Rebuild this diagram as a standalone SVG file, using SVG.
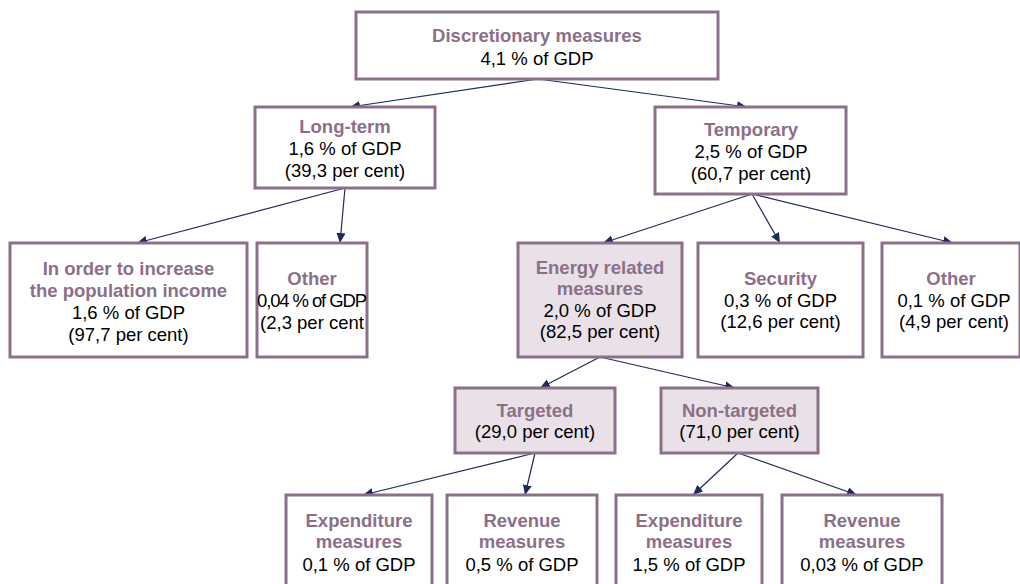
<svg xmlns="http://www.w3.org/2000/svg" width="1020" height="584" viewBox="0 0 1020 584">
<defs>
<marker id="arr" markerUnits="userSpaceOnUse" markerWidth="12" markerHeight="10" refX="10" refY="4.5" orient="auto">
<path d="M0,0 L10,4.5 L0,9 Z" fill="#1F2A5C"/>
</marker>
<style>
.box{fill:#FFFFFF;stroke:#8C7089;stroke-width:3}
.hl{fill:#E9E1E7;stroke:#8C7089;stroke-width:3}
text{font-family:"Liberation Sans",Arial,sans-serif;font-size:18.5px;text-anchor:middle;fill:#000000}
.t{font-weight:bold;fill:#8C7089}
.c{stroke:#1F2A5C;stroke-width:1.2;fill:none;marker-end:url(#arr)}
</style>
</defs>
<rect width="1020" height="584" fill="#FFFFFF"/>
<g id="connectors">
<line class="c" x1="538" y1="79" x2="350" y2="107"/>
<line class="c" x1="538" y1="79" x2="747" y2="107"/>
<line class="c" x1="345" y1="188" x2="137" y2="243"/>
<line class="c" x1="345" y1="188" x2="340" y2="243"/>
<line class="c" x1="752" y1="194" x2="603" y2="243"/>
<line class="c" x1="752" y1="194" x2="780" y2="243"/>
<line class="c" x1="752" y1="194" x2="953" y2="243"/>
<line class="c" x1="600" y1="357" x2="540" y2="388"/>
<line class="c" x1="600" y1="357" x2="735" y2="388"/>
<line class="c" x1="535" y1="453" x2="363" y2="495"/>
<line class="c" x1="535" y1="453" x2="525" y2="495"/>
<line class="c" x1="738" y1="453" x2="693" y2="495"/>
<line class="c" x1="738" y1="453" x2="857" y2="495"/>
</g>
<g id="discretionary">
<rect class="box" x="356" y="12" width="362" height="67"/>
<text class="t" x="537" y="42">Discretionary measures</text>
<text x="537" y="65">4,1 % of GDP</text>
</g>
<g id="longterm">
<rect class="box" x="255" y="107" width="180" height="81"/>
<text class="t" x="345" y="133">Long-term</text>
<text x="345" y="155">1,6 % of GDP</text>
<text x="345" y="177">(39,3 per cent)</text>
</g>
<g id="temporary">
<rect class="box" x="655" y="107" width="191" height="87"/>
<text class="t" x="751" y="136">Temporary</text>
<text x="751" y="158">2,5 % of GDP</text>
<text x="751" y="180">(60,7 per cent)</text>
</g>
<g id="income">
<rect class="box" x="10" y="243" width="237" height="114"/>
<text class="t" x="128.5" y="275">In order to increase</text>
<text class="t" x="128.5" y="297">the population income</text>
<text x="128.5" y="319">1,6 % of GDP</text>
<text x="128.5" y="341">(97,7 per cent)</text>
</g>
<g id="other-longterm">
<rect class="box" x="257" y="243" width="110" height="114"/>
<text class="t" x="312" y="285">Other</text>
<text x="312" y="307" textLength="110" lengthAdjust="spacing">0,04 % of GDP</text>
<text x="312" y="329">(2,3 per cent</text>
</g>
<g id="energy">
<rect class="hl" x="518" y="243" width="164" height="114"/>
<text class="t" x="600" y="274">Energy related</text>
<text class="t" x="600" y="295">measures</text>
<text x="600" y="317">2,0 % of GDP</text>
<text x="600" y="338">(82,5 per cent)</text>
</g>
<g id="security">
<rect class="box" x="698" y="243" width="165" height="114"/>
<text class="t" x="780.5" y="285">Security</text>
<text x="780.5" y="307">0,3 % of GDP</text>
<text x="780.5" y="328">(12,6 per cent)</text>
</g>
<g id="other-temporary">
<rect class="box" x="882" y="243" width="138" height="114"/>
<text class="t" x="951" y="285">Other</text>
<text x="954" y="307">0,1 % of GDP</text>
<text x="954" y="328">(4,9 per cent)</text>
</g>
<g id="targeted">
<rect class="hl" x="455" y="388" width="160" height="65"/>
<text class="t" x="535" y="417">Targeted</text>
<text x="535" y="438">(29,0 per cent)</text>
</g>
<g id="nontargeted">
<rect class="hl" x="661" y="388" width="157" height="65"/>
<text class="t" x="739.5" y="417">Non-targeted</text>
<text x="739.5" y="438">(71,0 per cent)</text>
</g>
<g id="exp-targeted">
<rect class="box" x="286" y="495" width="146" height="110"/>
<text class="t" x="359" y="527">Expenditure</text>
<text class="t" x="359" y="548">measures</text>
<text x="359" y="571">0,1 % of GDP</text>
</g>
<g id="rev-targeted">
<rect class="box" x="447" y="495" width="150" height="110"/>
<text class="t" x="522" y="527">Revenue</text>
<text class="t" x="522" y="548">measures</text>
<text x="522" y="571">0,5 % of GDP</text>
</g>
<g id="exp-nontargeted">
<rect class="box" x="616" y="495" width="146" height="110"/>
<text class="t" x="689" y="527">Expenditure</text>
<text class="t" x="689" y="548">measures</text>
<text x="689" y="571">1,5 % of GDP</text>
</g>
<g id="rev-nontargeted">
<rect class="box" x="782" y="495" width="160" height="110"/>
<text class="t" x="862" y="527">Revenue</text>
<text class="t" x="862" y="548">measures</text>
<text x="862" y="571">0,03 % of GDP</text>
</g>
</svg>
